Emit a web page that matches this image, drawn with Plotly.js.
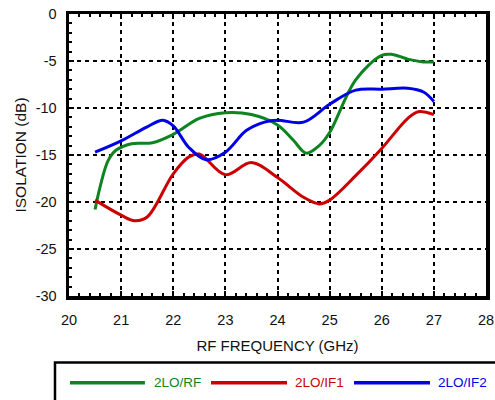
<!DOCTYPE html>
<html>
<head>
<meta charset="utf-8">
<script src="https://cdn.plot.ly/plotly-3.0.1.min.js"></script>
<style>html,body{margin:0;padding:0;background:#fff;}#chart{width:495px;height:400px;}</style>
</head>
<body>
<div id="chart"></div>
<script>
// Series names and colours
const seriesNames = ["2LO/RF", "2LO/IF1", "2LO/IF2"];
const seriesColors = ["#0c8420", "#cc0000", "#0000e6"];

// 2LO/RF
const rfFreq = [20.5, 20.6, 20.75, 20.9, 21.2, 21.6, 22.0, 22.5, 23.0, 23.5, 24.0, 24.3, 24.55, 24.8, 25.0, 25.5, 26.0, 26.2, 26.5, 26.8, 27.0];
const rfIso  = [-20.8, -18.3, -15.6, -14.5, -13.8, -13.7, -12.8, -11.1, -10.5, -10.7, -11.8, -13.4, -14.8, -14.0, -12.6, -7.0, -4.4, -4.3, -4.8, -5.1, -5.1];

// 2LO/IF1
const if1Freq = [20.5, 21.0, 21.26, 21.5, 22.0, 22.3, 22.5, 23.0, 23.5, 24.0, 24.5, 24.8, 25.0, 25.5, 26.0, 26.5, 26.7, 27.0];
const if1Iso  = [-19.8, -21.4, -22.0, -21.6, -17.0, -15.2, -14.9, -17.1, -15.8, -17.4, -19.5, -20.2, -19.8, -17.2, -14.3, -11.1, -10.4, -10.7];

// 2LO/IF2
const if2Freq = [20.5, 21.0, 21.5, 21.8, 22.0, 22.3, 22.63, 23.0, 23.4, 23.75, 24.0, 24.5, 25.0, 25.5, 26.0, 26.5, 26.8, 27.0];
const if2Iso  = [-14.7, -13.5, -12.0, -11.3, -11.9, -14.2, -15.5, -14.7, -12.4, -11.5, -11.3, -11.5, -9.6, -8.1, -8.0, -7.9, -8.3, -9.3];

// Axis ticks
const xTicks = [20, 21, 22, 23, 24, 25, 26, 27, 28];
const yTicks = [0, -5, -10, -15, -20, -25, -30];

const xs = [rfFreq, if1Freq, if2Freq];
const ys = [rfIso, if1Iso, if2Iso];

const traces = seriesNames.map((n, i) => ({
  x: xs[i], y: ys[i], name: n, type: 'scatter', mode: 'lines',
  line: {color: seriesColors[i], width: 3, shape: 'spline', smoothing: 1},
  showlegend: false
}));

const font = "Liberation Sans, Arial, Helvetica, sans-serif";

// legend drawn as paper-space shapes/annotations
const legLineX = [[0.0024, 0.182], [0.3405, 0.5228], [0.6835, 0.8657]];
const legTextX = [0.198, 0.537, 0.879];
const legY = -0.308;

const shapes = [{
  type: 'rect', xref: 'paper', yref: 'paper',
  x0: -0.0336, x1: 1.3, y0: -0.2354, y1: -0.6,
  line: {color: '#000', width: 2.5}, fillcolor: 'rgba(0,0,0,0)'
}];
const annotations = [];
seriesNames.forEach((n, i) => {
  shapes.push({type: 'line', xref: 'paper', yref: 'paper',
    x0: legLineX[i][0], x1: legLineX[i][1], y0: legY, y1: legY,
    line: {color: seriesColors[i], width: 3.5}});
  annotations.push({xref: 'paper', yref: 'paper', x: legTextX[i], y: legY,
    xanchor: 'left', yanchor: 'middle', text: n, showarrow: false,
    font: {family: font, size: 13.5, color: seriesColors[i]}});
});

const axisCommon = {
  showline: true, linecolor: '#000', linewidth: 3.5,
  ticks: 'inside', ticklen: 5, tickwidth: 2, tickcolor: '#000',
  showgrid: true, gridcolor: '#000', gridwidth: 2, griddash: '4px,4px',
  zeroline: false, tickfont: {family: font, size: 14.5, color: '#111'},
  fixedrange: true
};

const layout = {
  width: 495, height: 400,
  margin: {l: 69, r: 9, t: 13.5, b: 104},
  paper_bgcolor: '#fff', plot_bgcolor: '#fff',
  showlegend: false,
  xaxis: Object.assign({}, axisCommon, {
    range: [20, 28], tickvals: xTicks, ticktext: xTicks.map(String),
    mirror: 'ticks', ticklabelstandoff: 8,
    minor: {dtick: 0.2, ticks: 'inside', ticklen: 3, tickwidth: 2, tickcolor: '#000', showgrid: false},
    title: {text: 'RF FREQUENCY (GHz)', font: {family: font, size: 15, color: '#111'}, standoff: 14}
  }),
  yaxis: Object.assign({}, axisCommon, {
    range: [-30, 0], tickvals: yTicks, ticktext: yTicks.map(String),
    mirror: true, ticklabelstandoff: 6,
    minor: {dtick: 1, ticks: 'inside', ticklen: 3, tickwidth: 2, tickcolor: '#000', showgrid: false},
    title: {text: 'ISOLATION (dB)', font: {family: font, size: 15.5, color: '#111'}, standoff: 6}
  }),
  shapes: shapes,
  annotations: annotations
};

Plotly.newPlot('chart', traces, layout, {staticPlot: true, displayModeBar: false});
</script>
</body>
</html>
